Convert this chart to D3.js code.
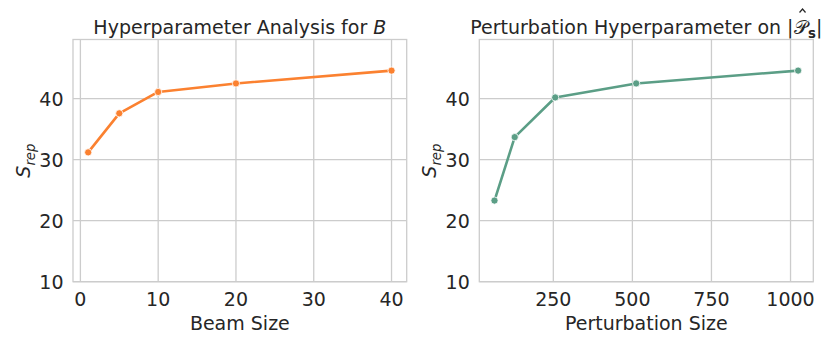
<!DOCTYPE html>
<html>
<head>
<meta charset="utf-8">
<script src="https://cdn.jsdelivr.net/npm/d3@7"></script>
<style>
  body { margin: 0; background: #fff; }
  svg { font-family: "DejaVu Sans", sans-serif; }
</style>
</head>
<body>
<div id="chart"></div>
<script>
/* two line panels: beam size and perturbation size vs S_rep */

const beamSizes = [1, 5, 10, 20, 40];
const beamScores = [31.2, 37.6, 41.1, 42.5, 44.6];
const beamTicks = [0, 10, 20, 30, 40];

const pertSizes = [64, 128, 256, 512, 1024];
const pertScores = [23.3, 33.7, 40.2, 42.5, 44.6];
const pertTicks = [250, 500, 750, 1000];

const yTicks = [10, 20, 30, 40];

const width = 830, height = 346;
const fs = 19, ink = "#262626", gridCol = "#cccccc";

let svg = d3.select("#chart")
    .append("svg")
    .attr("width", width)
    .attr("height", height);

/* draw one panel */
function panel(cfg) {
    const top = 39.5, bottom = 281.7;

    let x = d3.scaleLinear()
        .domain(cfg.xDomain)
        .range([cfg.left, cfg.right]);

    let y = d3.scaleLinear()
        .domain([10, 49.7])
        .range([bottom, top]);

    let g = svg.append("g");

    // grid
    g.append("g")
        .selectAll("line")
        .data(cfg.xTicks)
        .join("line")
        .attr("x1", d => x(d)).attr("x2", d => x(d))
        .attr("y1", top).attr("y2", bottom)
        .attr("stroke", gridCol).attr("stroke-width", 1.3);

    g.append("g")
        .selectAll("line")
        .data(yTicks)
        .join("line")
        .attr("x1", cfg.left).attr("x2", cfg.right)
        .attr("y1", d => y(d)).attr("y2", d => y(d))
        .attr("stroke", gridCol).attr("stroke-width", 1.3);

    // frame
    g.append("rect")
        .attr("x", cfg.left).attr("y", top)
        .attr("width", cfg.right - cfg.left)
        .attr("height", bottom - top)
        .attr("fill", "none")
        .attr("stroke", gridCol).attr("stroke-width", 1.3);

    // tick labels
    g.append("g")
        .selectAll("text")
        .data(cfg.xTicks)
        .join("text")
        .attr("x", d => x(d))
        .attr("y", 305.5)
        .attr("text-anchor", "middle")
        .attr("font-size", fs)
        .attr("fill", ink)
        .text(d => d);

    g.append("g")
        .selectAll("text")
        .data(yTicks)
        .join("text")
        .attr("x", cfg.left - 9.5)
        .attr("y", d => y(d) + 6.9)
        .attr("text-anchor", "end")
        .attr("font-size", fs)
        .attr("fill", ink)
        .text(d => d);

    // axis labels
    g.append("text")
        .attr("x", (cfg.left + cfg.right) / 2)
        .attr("y", 329.5)
        .attr("text-anchor", "middle")
        .attr("font-size", fs)
        .attr("fill", ink)
        .text(cfg.xLabel);

    let yl = g.append("text")
        .attr("transform", `translate(${cfg.left - 43},${(top + bottom) / 2}) rotate(-90)`)
        .attr("text-anchor", "middle")
        .attr("font-size", fs)
        .attr("fill", ink)
        .attr("font-style", "italic");
    yl.append("tspan").text("S");
    yl.append("tspan").attr("font-size", fs * 0.7).attr("dy", 4.5).text("rep");

    // title
    cfg.title(g.append("text")
        .attr("x", (cfg.left + cfg.right) / 2)
        .attr("y", 34)
        .attr("text-anchor", "middle")
        .attr("font-size", fs)
        .attr("fill", ink), g);

    // line + markers
    let pts = cfg.xs.map((v, i) => [v, cfg.ys[i]]);

    g.append("path")
        .datum(pts)
        .attr("fill", "none")
        .attr("stroke", cfg.color)
        .attr("stroke-width", 2.6)
        .attr("stroke-linejoin", "round")
        .attr("d", d3.line().x(d => x(d[0])).y(d => y(d[1])));

    g.append("g")
        .selectAll("circle")
        .data(pts)
        .join("circle")
        .attr("cx", d => x(d[0]))
        .attr("cy", d => y(d[1]))
        .attr("r", 3.6)
        .attr("fill", cfg.color)
        .attr("stroke", "#fff")
        .attr("stroke-width", 0.8);
}

panel({
    left: 73, right: 406.7,
    xDomain: [-0.95, 41.95],
    xTicks: beamTicks,
    xs: beamSizes, ys: beamScores,
    color: "#fb8130",
    xLabel: "Beam Size",
    title: t => {
        t.append("tspan").text("Hyperparameter Analysis for ");
        t.append("tspan").attr("font-style", "italic").text("B");
    }
});

panel({
    left: 479.3, right: 813.3,
    xDomain: [16, 1072],
    xTicks: pertTicks,
    xs: pertSizes, ys: pertScores,
    color: "#5b9e86",
    xLabel: "Perturbation Size",
    title: (t, g) => {
        t.append("tspan").text("Perturbation Hyperparameter on |");
        let p = t.append("tspan").text("\u{1D4AB}");
        t.append("tspan").attr("font-size", fs * 0.7).attr("font-weight", "bold")
            .attr("dx", 0.5).attr("dy", 4).text("s");
        t.append("tspan").attr("dy", -4).text("|");
        // hat over the P, drawn as a small chevron
        let pos = p.node().getStartPositionOfChar(0);
        let w = p.node().getComputedTextLength();
        let cx = pos.x + w / 2 + 2;
        g.append("path")
            .attr("d", `M${cx - 3},12.5L${cx},9L${cx + 3},12.5`)
            .attr("fill", "none")
            .attr("stroke", ink)
            .attr("stroke-width", 1.2);
    }
});
</script>
</body>
</html>
